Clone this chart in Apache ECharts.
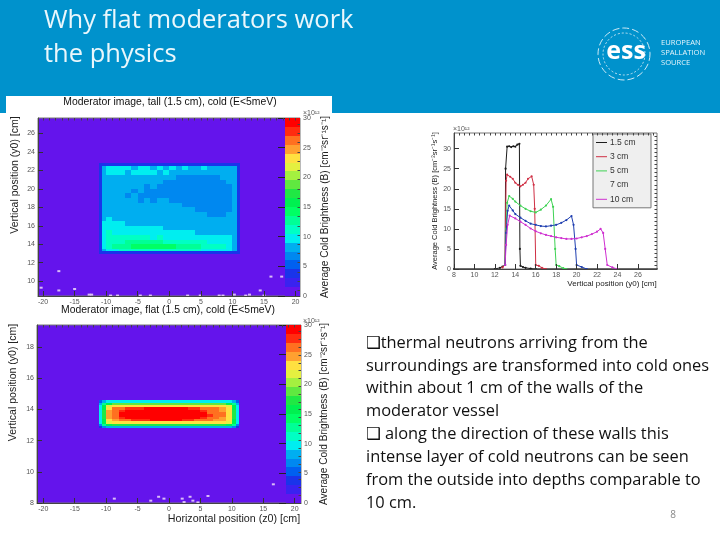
<!DOCTYPE html>
<html><head><meta charset="utf-8">
<style>html,body{margin:0;padding:0;background:#fff}#c{width:720px;height:540px}</style>
<script src="https://cdn.jsdelivr.net/npm/echarts@6/dist/echarts.min.js"></script>
</head><body><div id="c"></div>
<script>
// ---- text
const slideTitle = ['Why flat moderators work', 'the physics'];
const bodyLines = ['❑thermal neutrons arriving from the','surroundings are transformed into cold ones','within about 1 cm of the walls of the','moderator vessel','❑ along the direction of these walls this','intense layer of cold neutrons can be seen','from the outside into depths comparable to','10 cm.'];
const logoLines = ['EUROPEAN','SPALLATION','SOURCE'];
const tallTitle = 'Moderator image, tall (1.5 cm), cold (E<5meV)';
const flatTitle = 'Moderator image, flat (1.5 cm), cold (E<5meV)';
const seriesNames = ['1.5 cm','3 cm','5 cm','7 cm','10 cm'];
// ---- palette, 1.5 units per band, 0 upward
const paletteColors = ['#6414EC','#3A22F0','#1A34EA','#0060F0','#0088F0','#00AEF0','#00EEF0','#00FFC4','#00FF96','#00FF64','#00F050','#20E844','#60E840','#A4F040','#E4F040','#FFE040','#FFA030','#FF7020','#FF2C10','#FF0000'];
const paletteTicks = [0,5,10,15,20,25,30];
// ---- tall moderator map
const cellX = [-11.2,-10.7,-10,-9,-8,-7,-6,-5,-4,-3,-2,-1,0,1,2,3,4,5,6,7,8,9,10,10.7,11.2];
const tallY = [22.75,22.45,22,21.5,21,20.5,20,19.5,19,18.5,18,17.5,17,16.5,16,15.5,15,14.5,14,13.5,13.25,13];
const tallRows = [
[4,4,4,4,4,4,4,4,4,4,4,4,4,4,4,4,4,4,4,4,4,4,4,4],
[4,8,10,10,10,10,8,10,10,8,10,8,10,8,10,8,8,10,8,8,8,8,8,4],
[4,8,10,10,10,8,10,10,10,10,8,10,8,8,8,8,8,8,8,8,8,8,8,4],
[4,8,8,8,8,8,8,8,8,8,8,8,8,7,7,7,7,7,7,7,8,8,8,4],
[4,8,8,8,8,8,8,8,8,8,8,7,7,7,7,7,7,7,7,7,7,8,8,4],
[4,8,8,8,8,8,8,8,7,8,7,7,7,7,7,7,7,7,7,7,7,7,8,4],
[4,8,8,8,8,8,7,8,7,7,7,7,7,7,7,7,7,7,7,7,7,7,8,4],
[4,8,8,8,8,7,8,7,7,7,7,7,7,7,7,7,7,7,7,7,7,7,8,4],
[4,8,8,8,8,8,8,7,8,7,8,8,7,7,7,7,7,7,7,7,7,7,8,4],
[4,8,8,8,8,8,8,8,8,8,8,8,8,8,7,7,7,7,7,7,7,7,8,4],
[4,8,8,8,8,8,8,8,8,8,8,8,8,8,8,8,7,7,7,7,7,7,8,4],
[4,8,8,8,8,8,8,8,8,8,8,8,8,8,8,8,8,8,7,7,7,8,8,4],
[4,8,10,8,8,8,8,8,8,8,8,8,8,8,8,8,8,8,8,8,8,8,8,4],
[4,10,10,10,10,8,8,8,8,8,8,8,8,8,8,8,8,8,8,8,8,8,8,4],
[4,10,10,10,10,10,10,10,10,10,10,8,8,8,8,8,8,8,8,8,8,8,8,4],
[4,10,11,10,10,10,10,10,10,10,10,10,10,10,10,10,8,8,8,8,8,8,8,4],
[4,10,11,11,11,11,11,11,11,10,11,10,10,10,10,10,10,10,10,10,10,10,8,4],
[4,10,11,11,11,13,13,13,13,13,13,11,11,11,11,11,11,11,10,10,10,10,8,4],
[4,10,11,13,13,13,14,14,14,14,14,14,14,13,13,13,13,11,11,11,11,10,8,4],
[4,8,10,10,11,11,11,11,11,11,11,11,11,11,11,11,11,10,10,10,10,10,8,4],
[4,4,4,4,4,4,4,4,4,4,4,4,4,4,4,4,4,4,4,4,4,4,4,4]];
const tallStrayX = [-17.5,-17.5,-15,-20.3,-12.7,-12.3,-9.3,-8.2,-4.6,-3,2.9,4.9,7.9,8.5,10.3,12.1,12.7,14.4,15,16.1,17.8];
const tallStrayY = [11.09,9,9.16,9.3,8.55,8.55,8.45,8.45,8.45,8.45,8.45,8.45,8.45,8.45,8.55,8.45,8.55,9,8.45,10.5,10.5];
// ---- flat moderator map
const flatY = [14.6,14.45,14.3,14.15,14,13.85,13.7,13.55,13.4,13.25,13.1,12.95,12.8];
const flatRows = [
[5,8,9,9,9,9,9,9,9,9,9,9,9,9,9,9,9,9,9,9,9,9,8,5],
[8,13,16,18,18,18,18,18,18,18,18,18,18,18,18,18,18,18,18,18,18,16,13,8],
[9,16,22,23,23,23,23,23,23,23,23,23,23,23,23,23,23,23,23,23,23,22,16,9],
[9,16,23,26,26,28,28,28,29,29,29,29,29,29,29,28,28,26,26,26,25,23,16,9],
[10,17,24,26,28,29,29,29,29,29,29,29,29,29,29,29,29,28,26,26,25,23,17,10],
[10,17,24,26,29,29,29,29,29,29,29,29,29,29,29,29,29,29,26,26,26,23,17,10],
[10,17,24,26,29,29,29,29,29,29,29,29,29,29,29,29,29,29,28,26,26,23,17,10],
[10,17,24,26,28,29,29,29,29,29,29,29,29,29,29,29,29,28,26,26,25,23,17,10],
[9,16,23,25,26,26,28,28,28,29,29,29,29,29,28,28,26,26,26,25,24,23,16,9],
[9,15,22,23,23,23,23,23,23,23,23,23,23,23,23,23,23,23,23,23,23,22,15,9],
[7,12,15,17,17,17,17,17,17,17,17,17,17,17,17,17,17,17,17,17,17,15,12,7],
[4,7,8,8,8,8,8,8,8,8,8,8,8,8,8,8,8,8,8,8,8,8,7,4]];
const flatStrayX = [-8.7,-2.9,-1.65,-0.8,2.1,2.4,3.35,3.8,4.6,6.2,16.6];
const flatStrayY = [8.28,8.15,8.4,8.28,8.28,8.06,8.4,8.15,8.04,8.45,9.2];
// ---- brightness profiles, [y0, brightness]
const prof15 = [[8,0],[12,0],[12.5,0.3],[12.75,0.6],[13,1],[13.05,25],[13.2,30.5],[13.4,30.6],[13.6,30.4],[13.8,30.6],[14,30.5],[14.2,31],[14.4,31.2],[14.45,5],[14.5,0.8],[14.75,0.5],[15,0.3],[15.5,0.1],[16,0],[28,0]];
const prof3 = [[12.75,0.4],[13,1],[13.1,22],[13.2,23.5],[13.5,23],[13.75,22.5],[14,21.5],[14.25,21],[14.5,20.6],[14.75,21],[15,21.5],[15.25,22.5],[15.6,23.1],[15.8,21],[15.9,15],[16,1],[16.3,0.8],[16.6,0.3],[17,0]];
const prof5 = [[13,1],[13.1,10],[13.2,16.5],[13.4,18.2],[13.75,17.5],[14,16.8],[14.5,15.8],[15,15],[15.5,14.4],[16,14.1],[16.5,14.8],[17,15.8],[17.5,17.4],[17.7,15.5],[17.9,5],[18,1],[18.3,0.7],[18.7,0.2],[19,0]];
const prof7 = [[13,1],[13.1,9],[13.25,14.5],[13.4,15.8],[13.75,14.6],[14,13.7],[14.5,12.8],[15,12],[15.5,11.3],[16,11],[16.5,10.7],[17,10.6],[17.5,10.8],[18,11],[18.5,11.5],[19,12.2],[19.5,13.2],[19.7,11],[19.9,5],[20,1],[20.5,0.5],[21,0]];
const prof10 = [[13,1],[13.1,6],[13.25,11],[13.45,13.3],[14,12.6],[14.5,11.8],[15,11],[15.5,10.1],[16,9.4],[16.5,8.9],[17,8.5],[17.5,8.2],[18,7.9],[18.5,7.7],[19,7.5],[19.5,7.5],[20,7.6],[20.5,7.9],[21,8.2],[21.5,8.7],[22,9.3],[22.35,10],[22.6,9],[22.8,5],[23,1],[23.5,0.4],[24,0]];
const profColors = ['#1c1c1c','#cf2f44','#3fd254','#1f3fb0','#cf30d0'];
const profLegendVisible = [1,1,1,0,1];
// ---- tick labels
const tallXTicks = [-20,-15,-10,-5,0,5,10,15,20];
const tallYTicks = [10,12,14,16,18,20,22,24,26];
const flatYTicks = [8,10,12,14,16,18];
const profXTicks = [8,10,12,14,16,18,20,22,24,26];
const profYTicks = [0,5,10,15,20,25,30];
const tallXMinor = [], tallYMinor = [], flatYMinor = [], profXMinor = [], profYMinor = [];
for (let v = -20; v <= 20; v += 1) tallXMinor.push(v);
for (let v = 9; v <= 27; v += 1) tallYMinor.push(v);
for (let v = 8; v <= 19; v += 0.5) flatYMinor.push(v);
for (let v = 8; v <= 27.5; v += 0.5) profXMinor.push(v);
for (let v = 0; v <= 33; v += 1) profYMinor.push(v);

const ROOT = 'Liberation Sans';
const tickColor = '#555';
const violet = paletteColors[0];
const bandColor = v => paletteColors[Math.min(paletteColors.length - 1, Math.floor(v / 1.5))];

function cells(rows, ys) {
  const out = [];
  rows.forEach((r, j) => r.forEach((v, i) => out.push([cellX[i], cellX[i + 1], ys[j + 1], ys[j], v])));
  return out;
}
function rectItem(params, api) {
  const a = api.coord([api.value(0), api.value(3)]);
  const b = api.coord([api.value(1), api.value(2)]);
  const x = Math.round(a[0]), y = Math.round(a[1]);
  return { type: 'rect', shape: { x, y, width: Math.round(b[0]) - x, height: Math.round(b[1]) - y },
    style: { fill: bandColor(api.value(4)) } };
}
function mapSeries(x, y, data, z) {
  return { type: 'custom', xAxisIndex: x, yAxisIndex: y, coordinateSystem: 'cartesian2d', z, silent: true, animation: false,
    encode: { x: [0, 1], y: [2, 3] }, data, renderItem: rectItem, clip: true };
}
function strays(x, y, xs, ys) {
  return { type: 'scatter', xAxisIndex: x, yAxisIndex: y, symbol: 'rect', symbolSize: [3, 2], z: 4, silent: true, animation: false,
    itemStyle: { color: '#f6e6fa' }, data: xs.map((v, i) => [v, ys[i]]) };
}
function paletteData() {
  return paletteColors.map((c, i) => [0, 1, i * 1.5, (i + 1) * 1.5, i * 1.5 + 0.1]);
}
const frame = { show: false };
function axis(grid, min, max, ticks, extra) {
  return Object.assign({ type: 'value', gridIndex: grid, min, max, splitLine: frame,
    axisLine: { show: true, onZero: false, lineStyle: { color: '#444', width: 1 } },
    axisTick: { show: true, inside: true, length: 5, customValues: ticks, lineStyle: { color: '#333' } },
    axisLabel: { show: true, customValues: ticks, fontFamily: ROOT, fontSize: 7, color: tickColor, margin: 3 },
    z: 8 }, extra || {});
}
function minor(grid, min, max, ticks, extra) {
  return Object.assign({ type: 'value', gridIndex: grid, min, max, splitLine: frame,
    axisLine: { show: false, onZero: false }, axisLabel: { show: false },
    axisTick: { show: true, inside: true, length: 2.5, customValues: ticks, lineStyle: { color: '#444' } }, z: 8 }, extra || {});
}
const nameStyle = (size, pad) => ({ fontFamily: ROOT, fontSize: size, color: '#222', padding: pad || 0 });

const gridBase = { show: true, containLabel: false, borderColor: '#777', borderWidth: 1 };
const option = {
  animation: false, backgroundColor: '#fff',
  title: [
    { text: tallTitle, left: 170, top: 97, textAlign: 'center', padding: 0, textStyle: { fontFamily: ROOT, fontSize: 10.4, fontWeight: 'normal', color: '#111' } },
    { text: flatTitle, left: 168, top: 305, textAlign: 'center', padding: 0, textStyle: { fontFamily: ROOT, fontSize: 10.4, fontWeight: 'normal', color: '#111' } }
  ],
  grid: [
    Object.assign({}, gridBase, { left: 38, top: 118, width: 262, height: 178, backgroundColor: violet }),
    Object.assign({}, gridBase, { left: 37, top: 325, width: 264, height: 178, backgroundColor: violet }),
    Object.assign({}, gridBase, { left: 454, top: 133, width: 203, height: 136, backgroundColor: '#fff' }),
    { show: false, left: 285, top: 118, width: 15, height: 178 },
    { show: false, left: 286, top: 325, width: 15, height: 178 }
  ],
  xAxis: [
    axis(0, -20.8, 20.7, tallXTicks),
    axis(1, -21, 21, tallXTicks, { name: 'Horizontal position (z0) [cm]', nameLocation: 'middle', nameGap: 10, nameTextStyle: nameStyle(10.7, [0, 0, 0, 130]) }),
    axis(2, 8, 27.87, profXTicks, { name: 'Vertical position (y0) [cm]', nameLocation: 'middle', nameGap: 7, nameTextStyle: nameStyle(8, [0, 0, 0, 113]) }),
    { type: 'value', gridIndex: 3, min: 0, max: 1, show: false },
    { type: 'value', gridIndex: 4, min: 0, max: 1, show: false },
    minor(0, -20.8, 20.7, tallXMinor), minor(1, -21, 21, tallXMinor), minor(2, 8, 27.87, profXMinor)
  ],
  yAxis: [
    axis(0, 8.4, 27.67, tallYTicks, { name: 'Vertical position (y0) [cm]', nameLocation: 'middle', nameGap: 17, nameRotate: 90, nameTextStyle: nameStyle(10.5, [0, 0, 0, 64]) }),
    axis(1, 8, 19.43, flatYTicks, { name: 'Vertical position (y0) [cm]', nameLocation: 'middle', nameGap: 18, nameRotate: 90, nameTextStyle: nameStyle(10.5, [0, 0, 0, 63]) }),
    axis(2, 0, 33.9, profYTicks, { name: 'Average Cold Brightness (B) [cm⁻²sr⁻¹s⁻¹]', nameLocation: 'middle', nameGap: 12, nameRotate: 90, nameTextStyle: nameStyle(7.5) }),
    axis(3, 0, 30, paletteTicks, { position: 'right', axisTick: { show: true, inside: true, length: 7, customValues: paletteTicks, lineStyle: { color: '#222' } },
      name: 'Average Cold Brightness (B) [cm⁻²sr⁻¹s⁻¹]', nameLocation: 'middle', nameGap: 20, nameRotate: 90, nameTextStyle: nameStyle(10.1), axisLine: { show: false } }),
    axis(4, 0, 30, paletteTicks, { position: 'right', axisTick: { show: true, inside: true, length: 7, customValues: paletteTicks, lineStyle: { color: '#222' } },
      name: 'Average Cold Brightness (B) [cm⁻²sr⁻¹s⁻¹]', nameLocation: 'middle', nameGap: 18, nameRotate: 90, nameTextStyle: nameStyle(10.1), axisLine: { show: false } }),
    minor(0, 8.4, 27.67, tallYMinor), minor(1, 8, 19.43, flatYMinor), minor(2, 0, 33.9, profYMinor)
  ],
  legend: {
    orient: 'vertical', left: 593, top: 134, padding: [3, 0, 3, 3], itemGap: 3.2, itemWidth: 11, itemHeight: 1, icon: 'rect',
    backgroundColor: '#efefef', borderColor: '#777', borderWidth: 1, selectedMode: false,
    textStyle: { fontFamily: ROOT, fontSize: 8.5, color: '#333', width: 41, lineHeight: 11, padding: [0,0,0,-2] },
    data: seriesNames.map((n, i) => ({ name: n, itemStyle: { opacity: profLegendVisible[i] } }))
  },
  series: [
    mapSeries(0, 0, cells(tallRows, tallY), 2),
    strays(0, 0, tallStrayX, tallStrayY),
    mapSeries(3, 3, paletteData(), 5),
    mapSeries(1, 1, cells(flatRows, flatY), 2),
    strays(1, 1, flatStrayX, flatStrayY),
    mapSeries(4, 4, paletteData(), 5)
  ].concat([prof15, prof3, prof5, prof7, prof10].map((d, i) => ({
    name: seriesNames[i], type: 'line', xAxisIndex: 2, yAxisIndex: 2, data: d, silent: true, animation: false,
    symbol: 'circle', symbolSize: 2.2, showSymbol: true, showAllSymbol: true, z: 3 + i,
    lineStyle: { color: profColors[i], width: 1 }, itemStyle: { color: profColors[i] }
  }))),
  graphic: { elements: [
    { type: 'rect', z: -10, shape: { x: 0, y: 0, width: 720, height: 113 }, style: { fill: '#0092CC' }, silent: true },
    { type: 'rect', z: -9, shape: { x: 6, y: 96, width: 326, height: 20 }, style: { fill: '#fff' }, silent: true },
    { type: 'circle', z: 5, shape: { cx: 624, cy: 54, r: 26 }, style: { fill: 'none', stroke: '#cfeaf6', lineWidth: 1, lineDash: [7, 3] }, silent: true },
    { type: 'circle', z: 5, shape: { cx: 624, cy: 54, r: 21 }, style: { fill: 'none', stroke: '#bfe2f2', lineWidth: 1, lineDash: [2, 2] }, silent: true },
    { type: 'text', z: 6, x: 626, y: 52, silent: true, style: { text: 'ess', fill: '#fff', fontFamily: 'Open Sans', fontWeight: 'bold', fontSize: 25, align: 'center', verticalAlign: 'middle' } },
    ...logoLines.map((t, i) => ({ type: 'text', z: 6, x: 661, y: 42.5 + i * 10, silent: true, style: { text: t, fill: '#e4f4fb', fontFamily: 'Open Sans', fontSize: 7.6, verticalAlign: 'middle' } })),
    ...slideTitle.map((t, i) => ({ type: 'text', z: 6, x: 44, y: 21 + i * 33.5, silent: true, style: { text: t, fill: '#eaf7fc', fontFamily: 'Open Sans', fontSize: 25.5, verticalAlign: 'middle' } })),
    ...bodyLines.map((t, i) => ({ type: 'text', z: 6, x: 366, y: 343 + i * 22.85, silent: true, style: { text: t, fill: '#111', fontFamily: "'Open Sans','DejaVu Sans'", fontSize: 16.4, verticalAlign: 'middle' } })),
    { type: 'text', z: 6, x: 673, y: 515, silent: true, style: { text: '8', fill: '#888', fontFamily: 'Open Sans', fontSize: 10, align: 'center', verticalAlign: 'middle' } },
    { type: 'text', z: 9, x: 303, y: 113, silent: true, style: { text: '×10¹²', fill: '#555', fontFamily: ROOT, fontSize: 7, verticalAlign: 'middle' } },
    { type: 'text', z: 9, x: 303, y: 321, silent: true, style: { text: '×10¹²', fill: '#555', fontFamily: ROOT, fontSize: 7, verticalAlign: 'middle' } },
    { type: 'text', z: 9, x: 453, y: 129, silent: true, style: { text: '×10¹²', fill: '#555', fontFamily: ROOT, fontSize: 7, verticalAlign: 'middle' } }
  ] }
};
echarts.init(document.getElementById('c'), null, { renderer: 'canvas' }).setOption(option);
</script></body></html>
